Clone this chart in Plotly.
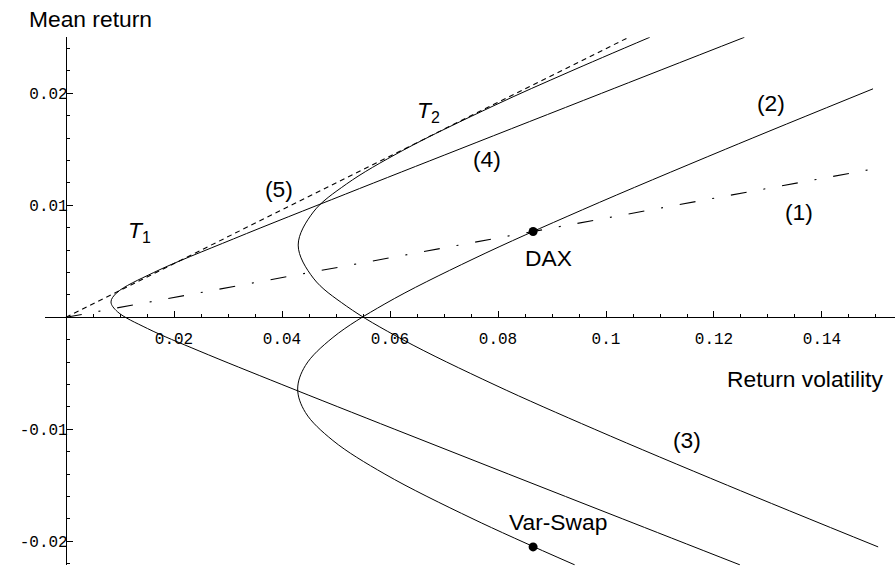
import plotly.graph_objects as go

# Frontier curves: mean return (mu) and the matching return volatility (sigma)
mu_frontier_4 = [-0.0221, -0.018, -0.014, -0.010, -0.006, -0.003, -0.001, 0.0005,
                 0.00137, 0.0022, 0.004, 0.007, 0.011, 0.015, 0.020, 0.025]
sigma_frontier_4 = [0.12479, 0.10310, 0.08196, 0.06089, 0.03998, 0.02464, 0.01508, 0.009524,
                    0.00833, 0.009423, 0.01625, 0.03101, 0.05176, 0.07279, 0.09918, 0.12563]

mu_frontier_2 = [-0.0221, -0.018, -0.014, -0.011, -0.0085, -0.0064, -0.0043, -0.0018,
                 0.0012, 0.0052, 0.0096, 0.015, 0.0204]
sigma_frontier_2 = [0.0942, 0.07537, 0.05906, 0.04943, 0.04434, 0.0429, 0.04434, 0.04943,
                    0.05906, 0.07537, 0.09563, 0.12210, 0.14945]

mu_frontier_3 = [-0.0205, -0.015, -0.010, -0.006, -0.002, 0.001, 0.0035, 0.00645,
                 0.0094, 0.0119, 0.0149, 0.0189, 0.0219, 0.025]
sigma_frontier_3 = [0.15040, 0.12250, 0.09792, 0.07926, 0.06238, 0.05194, 0.04580, 0.0430,
                    0.04580, 0.05194, 0.06238, 0.07926, 0.09314, 0.1081]

# Straight lines from the origin
sigma_line_1 = [0.0, 0.149]
mu_line_1 = [0.0, 0.0132]
sigma_line_5 = [0.0, 0.1044]
mu_line_5 = [0.0, 0.02505]

# Marked assets
asset_names = ["DAX", "Var-Swap"]
asset_sigma = [0.0865, 0.0865]
asset_mu = [0.00766, -0.0205]

# Curve labels
label_text = ["(1)", "(2)", "(3)", "(4)", "(5)", "<i>T</i><sub>1</sub>", "<i>T</i><sub>2</sub>",
              "DAX", "Var-Swap"]
label_x = [0.1357, 0.1306, 0.1150, 0.0780, 0.03944, 0.0137, 0.0672, 0.0893, 0.0911]
label_y = [0.0094, 0.01913, -0.01095, 0.01413, 0.01146, 0.0077, 0.0184, 0.0053, -0.01827]

# Axis ticks
x_tick_vals = [0.02, 0.04, 0.06, 0.08, 0.10, 0.12, 0.14]
x_tick_text = ["0.02", "0.04", "0.06", "0.08", "0.1", "0.12", "0.14"]
y_tick_vals = [-0.02, -0.01, 0.01, 0.02]
y_tick_text = ["-0.02", "-0.01", "0.01", "0.02"]
x_minor_vals = [round(0.005 * k, 3) for k in range(1, 31) if k % 4 != 0]
y_minor_vals = [round(0.002 * k, 3) for k in range(-11, 13) if k % 5 != 0]

W, H = 895, 568
x_range = [-0.00389, 0.15352]
y_range = [-0.02215, 0.02500]
x_dom = [45 / W, 1.0]
y_dom = [(H - 565.4) / H, (H - 37.3) / H]

# positions of the crossing axes (paper fractions)
x_axis_pos = y_dom[0] + (0 - y_range[0]) / (y_range[1] - y_range[0]) * (y_dom[1] - y_dom[0])
y_axis_pos = x_dom[0] + (0 - x_range[0]) / (x_range[1] - x_range[0]) * (x_dom[1] - x_dom[0])

line_style = dict(color="black", width=1.0)

fig = go.Figure()
for sig, mu in [(sigma_frontier_4, mu_frontier_4),
                (sigma_frontier_2, mu_frontier_2),
                (sigma_frontier_3, mu_frontier_3)]:
    fig.add_trace(go.Scatter(x=sig, y=mu, mode="lines", line=dict(shape="spline", **line_style),
                             hoverinfo="skip"))

fig.add_trace(go.Scatter(x=sigma_line_1, y=mu_line_1, mode="lines",
                         line=dict(color="black", width=1.1, dash="16px,17px,2px,17px"),
                         hoverinfo="skip"))
fig.add_trace(go.Scatter(x=sigma_line_5, y=mu_line_5, mode="lines",
                         line=dict(color="black", width=1.1, dash="5px,4px"),
                         hoverinfo="skip"))
fig.add_trace(go.Scatter(x=asset_sigma, y=asset_mu, mode="markers", text=asset_names,
                         hoverinfo="text", marker=dict(color="black", size=9)))

label_font = dict(family="Liberation Sans, Arial, sans-serif", size=22.8, color="black")
for t, lx, ly in zip(label_text, label_x, label_y):
    fig.add_annotation(x=lx, y=ly, xref="x", yref="y", text=t, showarrow=False,
                       xanchor="center", yanchor="middle", font=label_font)

fig.add_annotation(x=90 / W, y=1 - 19 / H, xref="paper", yref="paper", text="Mean return",
                   showarrow=False, xanchor="center", yanchor="middle", font=label_font)
fig.add_annotation(x=805 / W, y=1 - 379 / H, xref="paper", yref="paper", text="Return volatility",
                   showarrow=False, xanchor="center", yanchor="middle", font=label_font)

tick_font = dict(family="Liberation Mono, Courier New, monospace", size=16, color="black")

fig.update_layout(
    width=W, height=H,
    margin=dict(l=0, r=0, t=0, b=0),
    paper_bgcolor="white", plot_bgcolor="white",
    showlegend=False,
    xaxis=dict(range=x_range, domain=x_dom, anchor="free", position=x_axis_pos,
               showgrid=False, zeroline=False, showline=True, linecolor="black", linewidth=1.2,
               tickmode="array", tickvals=x_tick_vals, ticktext=x_tick_text,
               ticks="inside", ticklen=6, tickwidth=1, tickcolor="black",
               tickfont=tick_font, ticklabelstandoff=6,
               minor=dict(tickmode="array", tickvals=x_minor_vals, ticks="inside",
                          ticklen=3, tickwidth=1, tickcolor="black", showgrid=False)),
    yaxis=dict(range=y_range, domain=y_dom, anchor="free", position=y_axis_pos,
               showgrid=False, zeroline=False, showline=True, linecolor="black", linewidth=1.2,
               tickmode="array", tickvals=y_tick_vals, ticktext=y_tick_text,
               ticks="inside", ticklen=6, tickwidth=1, tickcolor="black",
               tickfont=tick_font, ticklabelstandoff=-5,
               minor=dict(tickmode="array", tickvals=y_minor_vals, ticks="inside",
                          ticklen=3, tickwidth=1, tickcolor="black", showgrid=False)),
)

fig.write_html("out.html")
